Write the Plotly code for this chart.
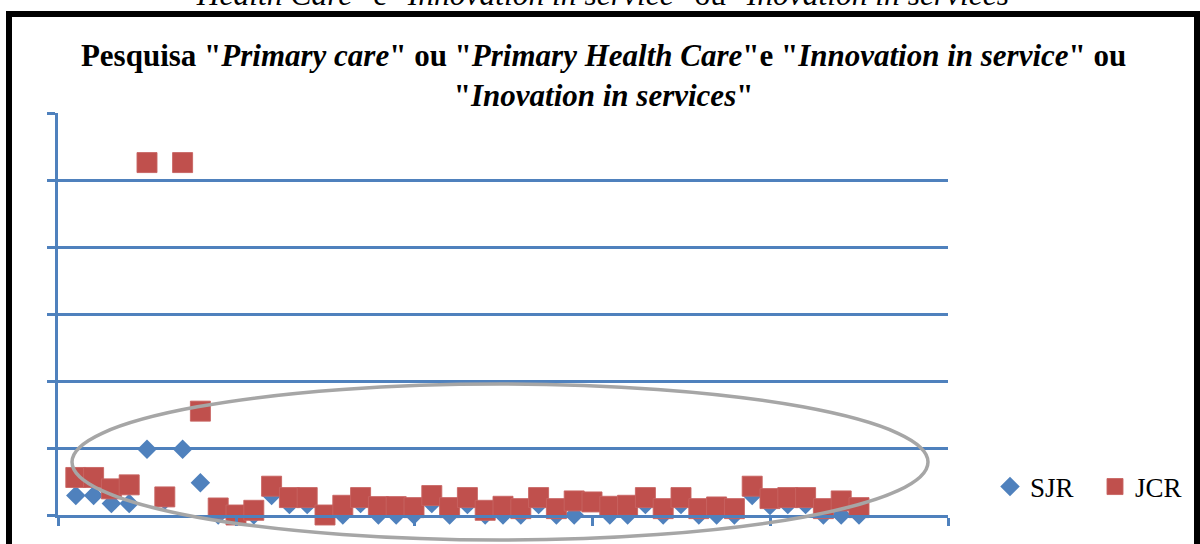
import plotly.graph_objects as go

# Article index (1..45) and the two impact indicators per article
article = list(range(1, 46))
sjr = [0.29, 0.29, 0.17, 0.17, 0.98, 0.22, 0.98, 0.48, 0.0, 0.0,
       0.0, 0.29, 0.155, 0.155, 0.0, 0.0, 0.17, 0.0, 0.0, 0.0,
       0.17, 0.0, 0.155, 0.0, 0.0, 0.0, 0.155, 0.0, 0.0, 0.19,
       0.0, 0.0, 0.155, 0.0, 0.155, 0.0, 0.0, 0.0, 0.29, 0.14,
       0.155, 0.155, 0.0, 0.0, 0.0]
jcr = [0.56, 0.56, 0.39, 0.45, 5.26, 0.27, 5.26, 1.55, 0.105, 0.0,
       0.07, 0.43, 0.26, 0.26, 0.0, 0.145, 0.26, 0.125, 0.125, 0.11,
       0.29, 0.11, 0.26, 0.07, 0.13, 0.095, 0.26, 0.095, 0.21, 0.195,
       0.13, 0.145, 0.26, 0.095, 0.26, 0.095, 0.12, 0.095, 0.43, 0.245,
       0.26, 0.26, 0.095, 0.21, 0.11]

BLUE = "#4F81BD"
RED = "#C0504D"
SERIF = "Liberation Serif, Times New Roman, serif"

W, H = 1200, 544
ML, MR, MT, MB = 58, 252, 113, 29
PW, PH = W - ML - MR, H - MT - MB


def px_x(p):
    return (p - ML) / PW


def px_y(p):
    return (H - MB - p) / PH


fig = go.Figure()
fig.add_trace(go.Scatter(
    x=article, y=sjr, mode="markers", name="SJR", cliponaxis=False,
    marker=dict(symbol="diamond", size=15, color=BLUE, line=dict(width=0)),
))
fig.add_trace(go.Scatter(
    x=article, y=jcr, mode="markers", name="JCR", cliponaxis=False,
    marker=dict(symbol="square", size=20, color=RED,
                line=dict(width=1, color="rgba(200,100,98,0.9)")),
))

title_html = ('<b>Pesquisa "<i>Primary care</i>" ou "<i>Primary Health Care</i>"e '
              '"<i>Innovation in service</i>" ou<br>"<i>Inovation in services</i>"</b>')

fig.update_layout(
    width=W, height=H,
    margin=dict(l=ML, r=MR, t=MT, b=MB, autoexpand=False),
    paper_bgcolor="white", plot_bgcolor="white",
    font=dict(family=SERIF, color="black"),
    title=dict(text=title_html, x=0.503, xref="container", xanchor="center",
               y=1 - 66 / H, yref="container", yanchor="bottom",
               font=dict(family=SERIF, size=31, color="black")),
    xaxis=dict(range=[0, 50], dtick=10, showgrid=False, zeroline=False,
               showline=True, linecolor=BLUE, linewidth=3,
               ticks="outside", ticklen=8, tickwidth=3, tickcolor=BLUE,
               showticklabels=False),
    yaxis=dict(range=[0, 6], dtick=1, showgrid=True, gridcolor=BLUE, gridwidth=2.5,
               zeroline=False, showline=True, linecolor=BLUE, linewidth=3,
               ticks="outside", ticklen=8, tickwidth=3, tickcolor=BLUE,
               showticklabels=False),
    legend=dict(orientation="h", x=px_x(990), xanchor="left",
                y=px_y(487), yanchor="middle",
                font=dict(family=SERIF, size=27, color="black"),
                bgcolor="rgba(0,0,0,0)", entrywidth=60, itemwidth=30),
    showlegend=True,
)

# Highlight ellipse around the low-impact cluster
fig.add_shape(type="circle", xref="paper", yref="paper",
              x0=px_x(72), x1=px_x(928), y0=px_y(540), y1=px_y(384),
              line=dict(color="#A6A6A6", width=3.5), layer="above")

# Chart frame
fig.add_shape(type="rect", xref="paper", yref="paper",
              x0=px_x(9), x1=px_x(1197), y0=px_y(570), y1=px_y(14),
              line=dict(color="black", width=6), layer="above")

# Caption line running above the frame
fig.add_annotation(
    text='"<i>Health Care</i>" e "<i>Innovation in service</i>" ou "<i>Inovation in services</i>"',
    xref="paper", yref="paper", x=px_x(603), y=px_y(14),
    xanchor="center", yanchor="bottom", showarrow=False,
    font=dict(family=SERIF, size=31.5, color="black"),
)

fig.write_html("out.html")
